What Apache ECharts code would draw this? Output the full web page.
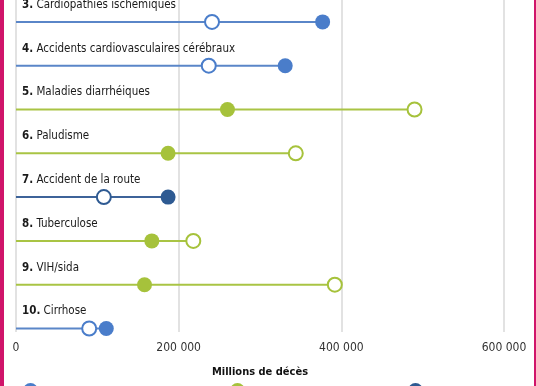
<!DOCTYPE html>
<html><head><meta charset="utf-8">
<script src="https://cdn.jsdelivr.net/npm/echarts@6/dist/echarts.min.js"></script>
<style>html,body{margin:0;padding:0;background:#fff}#c{width:536px;height:386px}</style>
</head><body><div id="c"></div>
<script>
// ---- data ----
const ranks = [3, 4, 5, 6, 7, 8, 9, 10];
const causes = ['Cardiopathies ischémiques', 'Accidents cardiovasculaires cérébraux', 'Maladies diarrhéiques', 'Paludisme', 'Accident de la route', 'Tuberculose', 'VIH/sida', 'Cirrhose'];
const groups = [0, 0, 1, 1, 2, 1, 1, 0];
const groupNames = ['Maladies non transmissibles', 'Maladies transmissibles', 'Traumatismes'];
const openValues = [241000, 237000, 490000, 344000, 108000, 218000, 392000, 90000];
const filledValues = [377000, 331000, 260000, 187000, 187000, 167000, 158000, 111000];
const xTicks = [0, 200000, 400000, 600000];
const axisTitle = 'Millions de décès';

// ---- style ----
const fillColors = ['#4a7dca', '#a6c23b', '#2e5a92'];
const lineColors = ['#5a86c8', '#a9c444', '#3d6399'];
const FONT = '"Liberation Sans Narrow", "DejaVu Sans Condensed", "Roboto", sans-serif';

const chart = echarts.init(document.getElementById('c'), null, {renderer: 'canvas'});

const lineData = ranks.map((r, i) => [r, openValues[i], filledValues[i], groups[i], i]);

const series = [{
  type: 'custom',
  name: 'lines',
  z: 1,
  encode: {x: [1, 2], y: 0},
  data: lineData,
  renderItem: function (params, api) {
    const r = api.value(0), o = api.value(1), f = api.value(2), g = api.value(3), idx = api.value(4);
    const p0 = api.coord([0, r]);
    const p1 = api.coord([Math.max(o, f), r]);
    return {
      type: 'group',
      children: [
        {type: 'line', shape: {x1: p0[0], y1: p0[1], x2: p1[0], y2: p1[1]},
         style: {stroke: lineColors[g], lineWidth: 2}},
        {type: 'text', x: p0[0] + 6, y: p0[1] - 17,
         style: {text: '{b|' + r + '.} ' + causes[idx],
                 rich: {b: {fontWeight: 'bold', fontSize: 11.5, fontFamily: FONT, fill: '#1a1a1a'}},
                 fontSize: 11.5, fontFamily: FONT, fill: '#1a1a1a',
                 align: 'left', verticalAlign: 'middle'}}
      ]
    };
  }
}];

groupNames.forEach((name, g) => {
  const idxs = ranks.map((r, i) => i).filter(i => groups[i] === g);
  series.push({
    type: 'scatter', name: name, z: 4,
    symbol: 'circle', symbolSize: 15,
    itemStyle: {color: fillColors[g], opacity: 1},
    data: idxs.map(i => [filledValues[i], ranks[i]])
  });
});
groupNames.forEach((name, g) => {
  const idxs = ranks.map((r, i) => i).filter(i => groups[i] === g);
  series.push({
    type: 'scatter', name: name + ' (o)', z: 3,
    symbol: 'circle', symbolSize: 14,
    itemStyle: {color: '#ffffff', borderColor: fillColors[g], borderWidth: 2, opacity: 1},
    data: idxs.map(i => [openValues[i], ranks[i]])
  });
});

const legendLeft = [23, 230, 408];
const legends = groupNames.map((name, g) => ({
  data: [name], left: legendLeft[g], top: 383, padding: 0,
  icon: 'circle', itemWidth: 15, itemHeight: 15,
  formatter: '{t|{name}}',
  textStyle: {fontFamily: FONT, fontSize: 12, color: '#222',
    rich: {t: {fontFamily: FONT, fontSize: 12, color: '#222', padding: [40, 0, 0, 0]}}}
}));

chart.setOption({
  animation: false,
  backgroundColor: '#ffffff',
  grid: {left: 16, right: 32, top: 0, bottom: 54, containLabel: false},
  legend: legends,
  xAxis: {
    type: 'value', min: xTicks[0], max: xTicks[xTicks.length - 1], interval: xTicks[1] - xTicks[0],
    axisLine: {show: false}, axisTick: {show: false},
    splitLine: {show: true, lineStyle: {color: '#d9d9d9', width: 1.5}},
    axisLabel: {fontFamily: FONT, fontSize: 12, color: '#333', margin: 10,
      formatter: v => String(v).replace(/\B(?=(\d{3})+(?!\d))/g, ' ')},
    name: axisTitle, nameLocation: 'middle', nameGap: 35,
    nameTextStyle: {fontFamily: FONT, fontSize: 11, fontWeight: 'bold', color: '#111'}
  },
  yAxis: {
    type: 'value', inverse: true, min: 2.5, max: 10.08, show: false,
    splitLine: {show: false}
  },
  graphic: [
    {type: 'rect', left: 0, top: 0, shape: {width: 4, height: 386}, style: {fill: '#d0146a'}, z: 100},
    {type: 'rect', left: 534, top: 0, shape: {width: 2, height: 386}, style: {fill: '#d0146a'}, z: 100}
  ],
  series: series
});
</script></body></html>
